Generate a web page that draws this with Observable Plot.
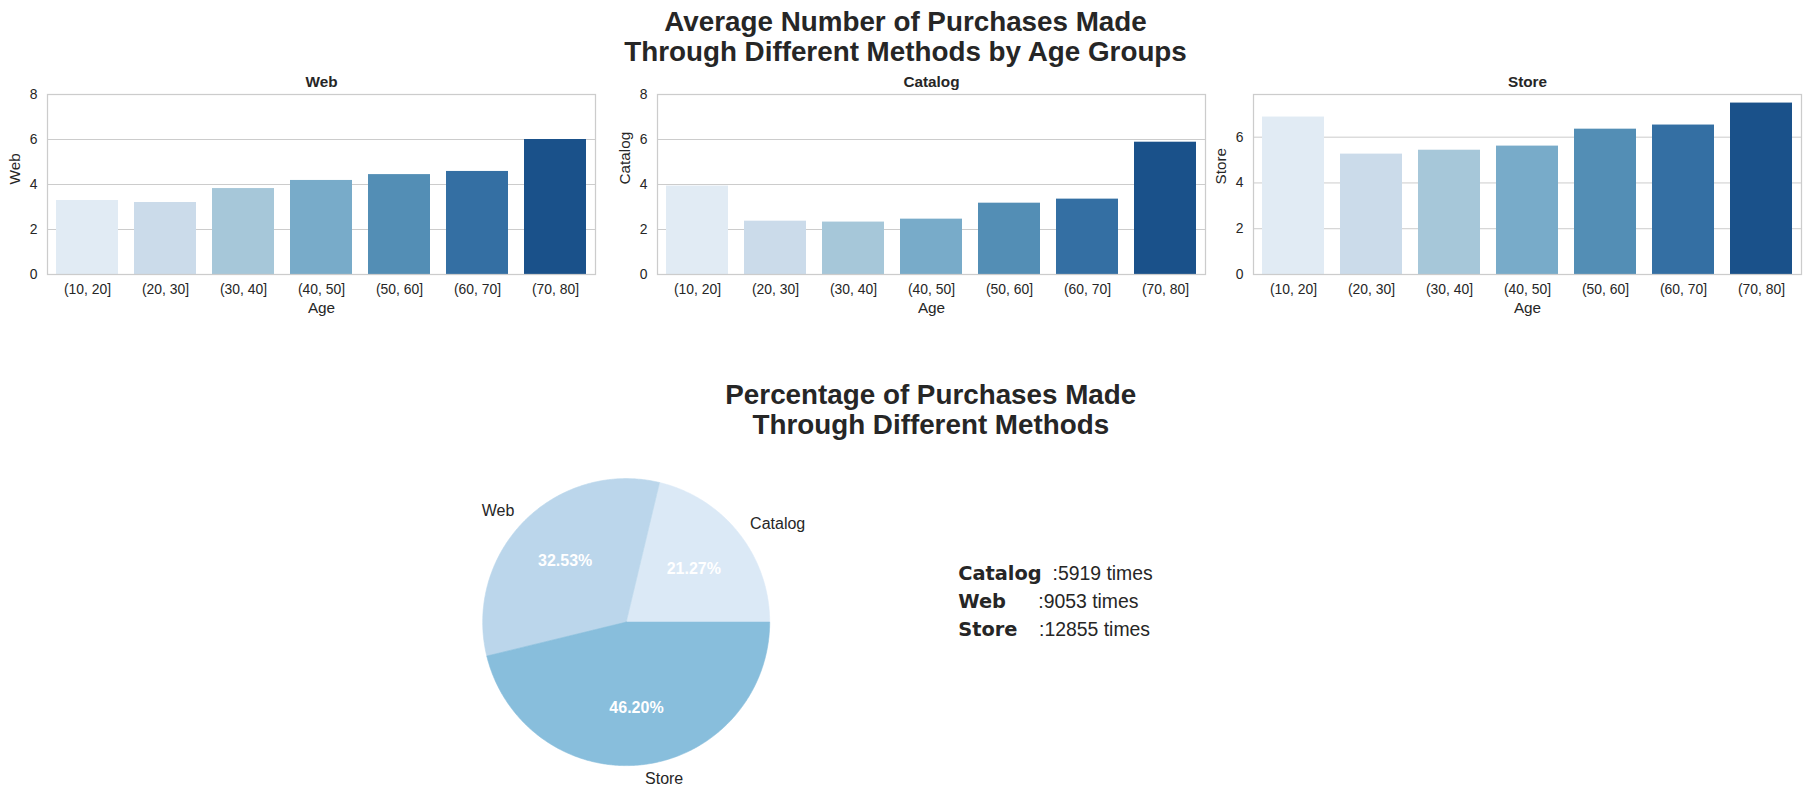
<!DOCTYPE html>
<html>
<head>
<meta charset="utf-8">
<script src="https://cdn.jsdelivr.net/npm/d3@7"></script>
<script src="https://cdn.jsdelivr.net/npm/@observablehq/plot@0.6"></script>
<style>
  html, body { margin: 0; padding: 0; background: #ffffff; }
  #fig { position: relative; width: 1811px; height: 811px; background: #ffffff; overflow: hidden; }
  .abs { position: absolute; }
  .bigtitle { font-family: "Liberation Sans", Arial, sans-serif; font-weight: bold; font-size: 27.8px; line-height: 30.4px; color: #262626; text-align: center; white-space: nowrap; }
</style>
</head>
<body>
<div id="fig"></div>
<script>
// ---------------- data ----------------
const ageGroups = ["(10, 20]", "(20, 30]", "(30, 40]", "(40, 50]", "(50, 60]", "(60, 70]", "(70, 80]"];
const webAvg     = [3.29, 3.20, 3.82, 4.18, 4.44, 4.58, 6.00];
const catalogAvg = [3.93, 2.37, 2.33, 2.46, 3.17, 3.35, 5.88];
const storeAvg   = [6.88, 5.26, 5.43, 5.61, 6.35, 6.53, 7.49];
const ticksEight = [0, 2, 4, 6, 8];
const ticksStore = [0, 2, 4, 6];

const methods        = ["Catalog", "Web", "Store"];
const purchaseCounts = [5919, 9053, 12855];
const legendSeps     = ["  :", "      :", "    :"];

const supTitle = ["Average Number of Purchases Made", "Through Different Methods by Age Groups"];
const pieTitle = ["Percentage of Purchases Made", "Through Different Methods"];
const xLabel = "Age";

// ---------------- styles ----------------
const FONT = '"Liberation Sans", Arial, sans-serif';
const TEXT = "#262626";
const GRID = "#cccccc";
const bluesBase = ["#deebf7", "#c6dbef", "#9ecae1", "#6baed6", "#4292c6", "#2171b5", "#08519c"];
const barColors = bluesBase.map(c => { const h = d3.hsl(c); h.s *= 0.75; return h.formatHex(); });
const pieColors = ["#dbe9f6", "#bbd6eb", "#88bedc"];

const fig = document.getElementById("fig");

function addTitle(lines, centerX, top) {
  const d = document.createElement("div");
  d.className = "abs bigtitle";
  d.style.left = (centerX - 400) + "px";
  d.style.width = "800px";
  d.style.top = top + "px";
  lines.forEach((l, i) => { if (i) d.appendChild(document.createElement("br")); d.appendChild(document.createTextNode(l)); });
  fig.appendChild(d);
}
addTitle(supTitle, 905.5, 6.6);

// ---------------- bar panels ----------------
function barPanel(values, name, yDomain, yTicks, left) {
  const data = ageGroups.map((g, i) => ({group: g, value: values[i]}));
  const p = Plot.plot({
    width: 601, height: 270,
    marginLeft: 47, marginRight: 6, marginTop: 34, marginBottom: 56,
    style: {fontFamily: FONT, fontSize: "13.9px", color: TEXT, background: "transparent", overflow: "visible"},
    x: {domain: ageGroups, paddingInner: 0.2, paddingOuter: 0.1},
    y: {domain: yDomain},
    color: {domain: ageGroups, range: barColors},
    marks: [
      Plot.gridY(yTicks, {stroke: GRID, strokeOpacity: 1, strokeWidth: 1}),
      Plot.barY(data, {x: "group", y: "value", fill: "group"}),
      Plot.frame({stroke: GRID, strokeWidth: 1.25}),
      Plot.axisY(yTicks, {tickSize: 0, tickPadding: 10, label: null, fill: TEXT}),
      Plot.axisX({tickSize: 0, tickPadding: 10, label: null, fill: TEXT}),
      Plot.text([name], {text: d => d, frameAnchor: "top", dy: -8, lineAnchor: "bottom", fontWeight: "bold", fontSize: 15.3, fill: TEXT}),
      Plot.text([xLabel], {text: d => d, frameAnchor: "bottom", dy: 34, lineAnchor: "middle", fontSize: 15.3, fill: TEXT}),
      Plot.text([name], {text: d => d, frameAnchor: "left", dx: -32, rotate: -90, lineAnchor: "middle", fontSize: 15.3, fill: TEXT})
    ]
  });
  p.classList.add("abs");
  p.style.left = left + "px";
  p.style.top = "60px";
  fig.appendChild(p);
}
barPanel(webAvg, "Web", [0, 8], ticksEight, 0);
barPanel(catalogAvg, "Catalog", [0, 8], ticksEight, 610);
barPanel(storeAvg, "Store", [0, d3.max(storeAvg) * 1.05], ticksStore, 1206);

// ---------------- pie ----------------
addTitle(pieTitle, 930.8, 380);

const PIE = {left: 400, top: 440, width: 480, height: 371, cx: 625.7, cy: 621.6, r: 143.5};
const total = d3.sum(purchaseCounts);
let acc = 0;
const slices = methods.map((m, i) => {
  const frac = purchaseCounts[i] / total;
  const s = {method: m, count: purchaseCounts[i], frac, start: acc * 2 * Math.PI, end: (acc + frac) * 2 * Math.PI};
  s.mid = (s.start + s.end) / 2;
  acc += frac;
  return s;
});
function slicePolygon(s) {
  const n = Math.max(2, Math.ceil((s.end - s.start) / (Math.PI / 360)));
  const pts = [{x: 0, y: 0}];
  for (let k = 0; k <= n; k++) {
    const t = s.start + (s.end - s.start) * k / n;
    pts.push({x: Math.cos(t), y: Math.sin(t)});
  }
  pts.push({x: 0, y: 0});
  return pts;
}
const ox = PIE.cx - PIE.left, oy = PIE.cy - PIE.top;
const pie = Plot.plot({
  width: PIE.width, height: PIE.height,
  margin: 0,
  style: {fontFamily: FONT, fontSize: "16px", color: TEXT, background: "transparent", overflow: "visible"},
  x: {domain: [-ox / PIE.r, (PIE.width - ox) / PIE.r], axis: null},
  y: {domain: [(oy - PIE.height) / PIE.r, oy / PIE.r], axis: null},
  marks: [
    ...slices.map((s, i) => Plot.line(slicePolygon(s), {x: "x", y: "y", fill: pieColors[i], stroke: pieColors[i], strokeWidth: 0.6})),
    Plot.text(slices.filter(s => Math.cos(s.mid) > 0), {x: s => 1.1 * Math.cos(s.mid), y: s => 1.1 * Math.sin(s.mid), text: "method", textAnchor: "start", fontSize: 16, fill: TEXT}),
    Plot.text(slices.filter(s => Math.cos(s.mid) <= 0), {x: s => 1.1 * Math.cos(s.mid), y: s => 1.1 * Math.sin(s.mid), text: "method", textAnchor: "end", fontSize: 16, fill: TEXT}),
    Plot.text(slices, {x: s => 0.6 * Math.cos(s.mid), y: s => 0.6 * Math.sin(s.mid), text: s => (s.frac * 100).toFixed(2) + "%", fontSize: 16, fontWeight: "bold", fill: "white"})
  ]
});
pie.classList.add("abs");
pie.style.left = PIE.left + "px";
pie.style.top = PIE.top + "px";
fig.appendChild(pie);

// ---------------- counts block ----------------
const rows = methods.map((m, i) => ({method: m, sep: legendSeps[i], count: purchaseCounts[i]}));
const LEG = {left: 940, top: 550, width: 320, height: 110};
const leg = Plot.plot({
  width: LEG.width, height: LEG.height, margin: 0,
  style: {fontFamily: FONT, fontSize: "19.4px", color: TEXT, background: "transparent", overflow: "visible"},
  y: {type: "point", domain: methods, range: [22.5, 80], padding: 0, axis: null},
  marks: [
    Plot.text(rows, {frameAnchor: "left", dx: 17.7, y: "method", lineAnchor: "middle", text: d => d.method + d.sep + d.count + " times", textAnchor: "start", fontSize: 19.4, fill: TEXT})
  ]
});
const NS = "http://www.w3.org/2000/svg";
leg.querySelectorAll('g[aria-label="text"] text').forEach((t, i) => {
  const r = rows[i];
  t.textContent = "";
  t.style.whiteSpace = "pre";
  const b = document.createElementNS(NS, "tspan");
  b.setAttribute("font-family", '"DejaVu Sans", sans-serif');
  b.setAttribute("font-weight", "bold");
  b.textContent = r.method;
  const n = document.createElementNS(NS, "tspan");
  n.textContent = r.sep + r.count + " times";
  t.appendChild(b); t.appendChild(n);
});
leg.classList.add("abs");
leg.style.left = LEG.left + "px";
leg.style.top = LEG.top + "px";
fig.appendChild(leg);
</script>
</body>
</html>
